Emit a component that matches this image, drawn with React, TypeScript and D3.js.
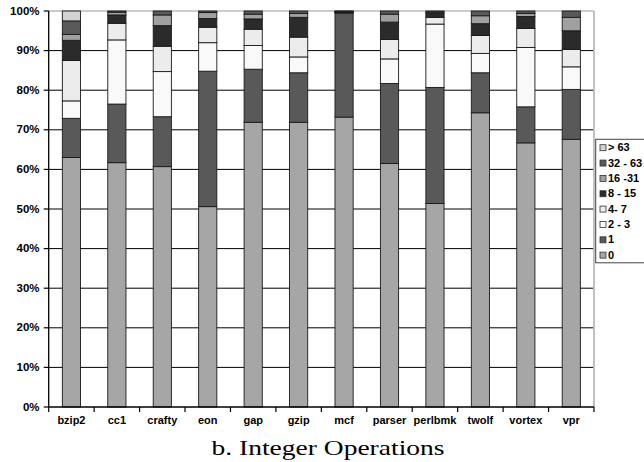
import React from "react";
import * as d3 from "d3";

const categories = ["bzip2", "cc1", "crafty", "eon", "gap", "gzip", "mcf", "parser", "perlbmk", "twolf", "vortex", "vpr"];
const seriesNames = ["0", "1", "2 - 3", "4- 7", "8 - 15", "16 -31", "32 - 63", "> 63"];

// percentage of each bucket per benchmark (bottom to top)
const s0 = [63.0, 61.7, 60.7, 50.6, 71.9, 71.9, 73.2, 61.5, 51.4, 74.3, 66.7, 67.6];
const s1 = [9.9, 14.8, 12.6, 34.2, 13.4, 12.5, 26.3, 20.2, 29.3, 10.1, 9.1, 12.6];
const s2_3 = [4.4, 16.2, 11.4, 7.2, 6.0, 4.0, 0.1, 6.2, 16.0, 4.9, 15.0, 5.7];
const s4_7 = [10.2, 4.2, 6.4, 3.9, 4.1, 5.0, 0.1, 4.9, 1.7, 4.5, 4.8, 4.4];
const s8_15 = [5.1, 2.1, 5.2, 2.2, 2.6, 5.0, 0.2, 4.4, 1.0, 3.0, 3.0, 4.7];
const s16_31 = [1.5, 0.7, 2.7, 1.5, 1.2, 1.0, 0.05, 2.0, 0.3, 2.0, 0.8, 3.4];
const s32_63 = [3.4, 0.3, 1.0, 0.4, 0.8, 0.6, 0.05, 0.8, 0.3, 1.2, 0.6, 1.6];
const sGt63 = [2.5, 0, 0, 0, 0, 0, 0, 0, 0, 0, 0, 0];

const seriesValues = [s0, s1, s2_3, s4_7, s8_15, s16_31, s32_63, sGt63];
const colors = ["#a6a6a6", "#595959", "#f9f9f9", "#ececec", "#2b2b2b", "#a0a0a0", "#5a5a5a", "#d2d2d2"];
const yTicks = [0, 10, 20, 30, 40, 50, 60, 70, 80, 90, 100];

const W = 644, H = 462;
const left = 48.7, right = 594, top = 11, bottom = 407;

export default function App() {
  const x = d3.scaleBand<string>().domain(categories).range([left, right]).paddingInner(0.6).paddingOuter(0.3);
  const y = d3.scaleLinear().domain([0, 100]).range([bottom, top]);

  const rows = categories.map((c, i) => {
    const r: any = { cat: c };
    seriesNames.forEach((s, k) => (r[s] = seriesValues[k][i]));
    return r;
  });
  const stack = d3.stack<any>().keys(seriesNames)(rows);
  const step = x.step();
  const boundaries = d3.range(categories.length + 1).map((i) => left + i * step);
  const legendItems = seriesNames.map((s, k) => ({ s, k })).reverse();
  const font = "'Liberation Sans', Arial, sans-serif";

  return (
    <div style={{ position: "absolute", left: 0, top: 0 }}>
      <svg width={W} height={H} style={{ display: "block", background: "#fff" }}>
        {/* gridlines */}
        {yTicks.filter((t) => t > 0 && t < 100).map((t) => (
          <line key={t} x1={left} x2={right} y1={y(t)} y2={y(t)} stroke="#000" strokeWidth={1} />
        ))}
        {/* plot border top/right */}
        <line x1={left} x2={right} y1={y(100)} y2={y(100)} stroke="#999" strokeWidth={1.2} />
        <line x1={right} x2={right} y1={y(100)} y2={bottom} stroke="#bbb" strokeWidth={1.8} />
        {/* bars */}
        {stack.map((layer, k) => (
          <g key={k}>
            {layer.map((d, i) => {
              const h = y(d[0]) - y(d[1]);
              if (h <= 0) return null;
              return (
                <rect key={i} x={x(categories[i])!} width={x.bandwidth()} y={y(d[1])} height={h}
                  fill={colors[k]} stroke="#1a1a1a" strokeWidth={0.9} />
              );
            })}
          </g>
        ))}
        {/* axes */}
        <line x1={left} x2={left} y1={top} y2={bottom} stroke="#000" strokeWidth={1.3} />
        <line x1={left} x2={right} y1={bottom} y2={bottom} stroke="#000" strokeWidth={1.3} />
        {yTicks.map((t) => (
          <g key={t}>
            <line x1={left - 5} x2={left} y1={y(t)} y2={y(t)} stroke="#000" strokeWidth={1.2} />
            <text transform={`translate(${39.5},${y(t) + 3.6}) scale(1.15,1)`} textAnchor="end"
              fontFamily={font} fontWeight="bold" fontSize={10} fill="#000">{t}%</text>
          </g>
        ))}
        {boundaries.map((b, i) => (
          <line key={i} x1={b} x2={b} y1={bottom} y2={bottom + 5} stroke="#000" strokeWidth={1.2} />
        ))}
        {categories.map((c) => (
          <text key={c} transform={`translate(${x(c)! + x.bandwidth() / 2},${424}) scale(1.1,1)`} textAnchor="middle"
            fontFamily={font} fontWeight="bold" fontSize={10} fill="#000">{c}</text>
        ))}
        {/* legend */}
        <rect x={595.7} y={139.3} width={60} height={123.5} fill="#fff" stroke="#444" strokeWidth={1} />
        {legendItems.map(({ s, k }, j) => {
          const cy = 147.7 + j * 15.35;
          return (
            <g key={s}>
              <rect x={600} y={cy - 3} width={6} height={6} fill={colors[k]} stroke="#333" strokeWidth={0.8} />
              <text transform={`translate(${608},${cy + 3.6}) scale(1.1,1)`} fontFamily={font} fontWeight="bold"
                fontSize={10} fill="#000">{s}</text>
            </g>
          );
        })}
        {/* caption */}
        <text x={328} y={455} textAnchor="middle" fontFamily="'Liberation Serif', 'Times New Roman', serif"
          fontSize={21} textLength={233} lengthAdjust="spacingAndGlyphs" fill="#000">b. Integer Operations</text>
      </svg>
    </div>
  );
}
